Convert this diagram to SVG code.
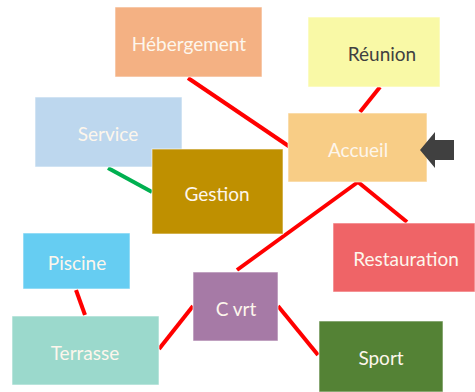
<svg xmlns="http://www.w3.org/2000/svg" width="475" height="392" viewBox="0 0 475 392">
<style>
.box{stroke:#ffffff;stroke-opacity:0.6;stroke-width:1}
.t{font-family:Lato,"Open Sans","Liberation Sans",sans-serif;font-size:19px;fill:#fdf6ec;text-anchor:middle;dominant-baseline:central}
.dark{fill:#404040}
.red{stroke:#ff0000;stroke-width:4;fill:none}
.green{stroke:#00b050;stroke-width:4;fill:none}
</style>
<rect width="475" height="392" fill="#ffffff"/>
<g id="connectors">
<line class="red" x1="188" y1="78" x2="290" y2="147"/>
<line class="red" x1="380" y1="87" x2="360" y2="112"/>
<line class="red" x1="358" y1="182" x2="407" y2="222"/>
<line class="red" x1="358" y1="182" x2="237" y2="270"/>
<line class="green" x1="108" y1="168" x2="152" y2="192"/>
<line class="red" x1="76" y1="290" x2="85" y2="315"/>
<line class="red" x1="159" y1="349" x2="193" y2="306"/>
<line class="red" x1="278" y1="306" x2="318" y2="355"/>
</g>
<g id="hebergement"><rect class="box" x="115" y="7" width="147" height="70" fill="#f4b183"/><text class="t" x="189" y="43">Hébergement</text></g>
<g id="reunion"><rect class="box" x="308" y="17" width="132" height="70" fill="#f9f9a6"/><text class="t dark" x="382" y="53">Réunion</text></g>
<g id="accueil"><rect class="box" x="288" y="113" width="139" height="69" fill="#f8cd86"/><text class="t" x="358" y="149">Accueil</text></g>
<g id="arrow"><polygon points="420,150 435,132 435,140 454,140 454,160 435,160 435,168" fill="#404040"/></g>
<g id="restauration"><rect class="box" x="333" y="223" width="142" height="69" fill="#ef6467"/><text class="t" x="406" y="258">Restauration</text></g>
<g id="service"><rect class="box" x="35" y="97" width="147" height="70" fill="#bdd7ee"/><text class="t" x="108" y="133">Service</text></g>
<g id="gestion"><rect class="box" x="152" y="149" width="131" height="85" fill="#bf9000"/><text class="t" x="217" y="193">Gestion</text></g>
<g id="piscine"><rect class="box" x="23" y="233" width="107" height="56" fill="#66cdf2"/><text class="t" x="77" y="262">Piscine</text></g>
<g id="cvrt"><rect class="box" x="193" y="272" width="85" height="69" fill="#a67aa6"/><text class="t" x="236" y="308">C vrt</text></g>
<g id="terrasse"><rect class="box" x="12" y="316" width="147" height="69" fill="#9bd9cc"/><text class="t" x="85" y="352">Terrasse</text></g>
<g id="sport"><rect class="box" x="319" y="321" width="124" height="71" fill="#548235"/><text class="t" x="381" y="357">Sport</text></g>
</svg>
